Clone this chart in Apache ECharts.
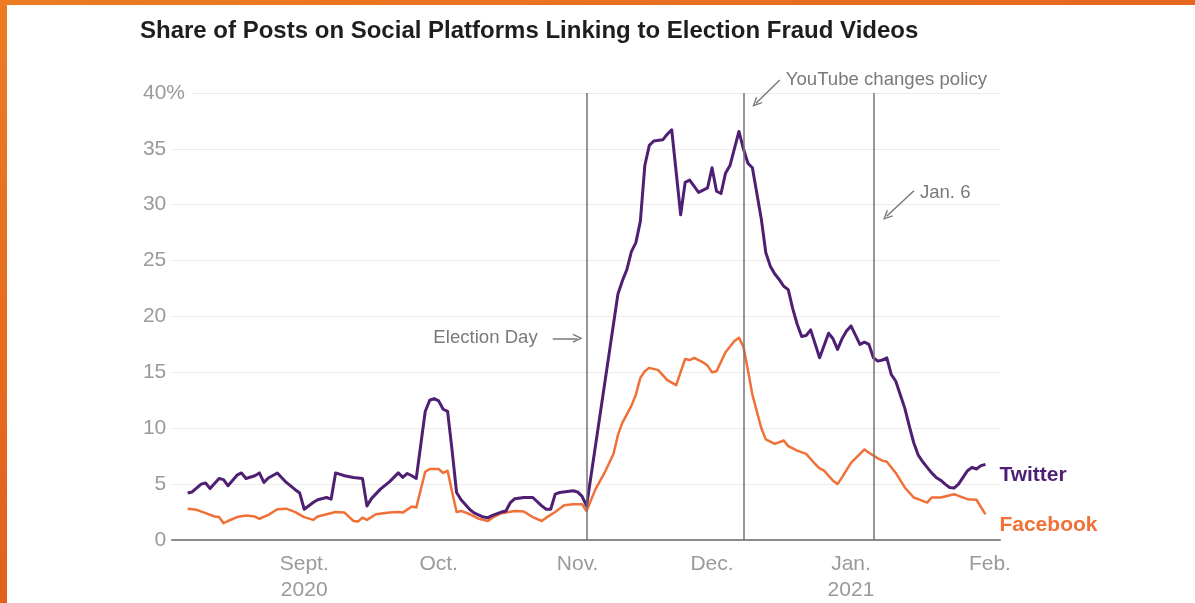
<!DOCTYPE html>
<html><head><meta charset="utf-8">
<script src="https://cdn.jsdelivr.net/npm/echarts@6/dist/echarts.min.js"></script>
<style>
html,body{margin:0;padding:0;width:1195px;height:603px;overflow:hidden;}
#frame{position:absolute;left:0;top:0;width:1195px;height:603px;background:linear-gradient(160deg,#ec7b23 0%,#e3641d 50%,#d9501a 100%);}
#paper{position:absolute;left:7px;top:5px;width:1188px;height:598px;background:#fff;}
#chart{position:absolute;left:0;top:0;width:1195px;height:603px;}
</style></head><body>
<div id="frame"></div><div id="paper"></div><div id="chart"></div>
<script>
const titleText = 'Share of Posts on Social Platforms Linking to Election Fraud Videos';

const twitter = [
 ['2020-08-06',4.2],['2020-08-07',4.3],['2020-08-09',5.0],['2020-08-10',5.1],['2020-08-11',4.6],
 ['2020-08-13',5.5],['2020-08-14',5.4],['2020-08-15',4.85],['2020-08-17',5.8],['2020-08-18',6.0],
 ['2020-08-19',5.5],['2020-08-21',5.75],['2020-08-22',6.0],['2020-08-23',5.15],['2020-08-24',5.55],
 ['2020-08-26',6.0],['2020-08-28',5.15],['2020-08-30',4.5],['2020-08-31',4.2],['2020-09-01',2.75],
 ['2020-09-03',3.35],['2020-09-04',3.6],['2020-09-06',3.8],['2020-09-07',3.65],['2020-09-08',6.0],
 ['2020-09-10',5.75],['2020-09-12',5.6],['2020-09-14',5.5],['2020-09-15',3.05],['2020-09-16',3.7],
 ['2020-09-18',4.55],['2020-09-20',5.2],['2020-09-22',6.0],['2020-09-23',5.6],['2020-09-24',5.95],
 ['2020-09-25',5.75],['2020-09-26',5.5],['2020-09-27',8.5],['2020-09-28',11.5],['2020-09-29',12.5],
 ['2020-09-30',12.65],['2020-10-01',12.45],['2020-10-02',11.7],['2020-10-03',11.5],['2020-10-04',8.0],
 ['2020-10-05',4.25],['2020-10-06',3.6],['2020-10-08',2.7],['2020-10-09',2.4],['2020-10-11',2.05],
 ['2020-10-12',2.0],['2020-10-13',2.2],['2020-10-15',2.5],['2020-10-16',2.6],['2020-10-17',3.35],
 ['2020-10-18',3.7],['2020-10-20',3.8],['2020-10-22',3.8],['2020-10-24',3.05],['2020-10-25',2.75],
 ['2020-10-26',2.75],['2020-10-27',4.1],['2020-10-28',4.25],['2020-10-31',4.4],['2020-11-01',4.3],
 ['2020-11-02',3.9],['2020-11-03',3.05],['2020-11-10',22.0],['2020-11-11',23.2],['2020-11-12',24.2],
 ['2020-11-13',25.8],['2020-11-14',26.6],['2020-11-15',28.5],['2020-11-16',33.5],['2020-11-17',35.3],
 ['2020-11-18',35.7],['2020-11-20',35.8],['2020-11-21',36.3],['2020-11-22',36.7],['2020-11-24',29.1],
 ['2020-11-25',32.0],['2020-11-26',32.2],['2020-11-28',31.1],['2020-11-30',31.5],['2020-12-01',33.3],
 ['2020-12-02',31.2],['2020-12-03',31.0],['2020-12-04',32.8],['2020-12-05',33.5],['2020-12-07',36.55],
 ['2020-12-08',35.0],['2020-12-09',33.7],['2020-12-10',33.3],['2020-12-11',31.0],['2020-12-12',28.7],
 ['2020-12-13',25.7],['2020-12-14',24.5],['2020-12-15',23.8],['2020-12-16',23.3],['2020-12-17',22.7],
 ['2020-12-18',22.4],['2020-12-19',20.7],['2020-12-20',19.3],['2020-12-21',18.2],['2020-12-22',18.3],
 ['2020-12-23',18.8],['2020-12-25',16.3],['2020-12-27',18.5],['2020-12-28',18.0],['2020-12-29',17.05],
 ['2020-12-30',18.0],['2020-12-31',18.7],['2021-01-01',19.15],['2021-01-03',17.5],['2021-01-04',17.7],
 ['2021-01-05',17.5],['2021-01-06',16.3],['2021-01-07',16.0],['2021-01-08',16.1],['2021-01-09',16.3],
 ['2021-01-10',14.8],['2021-01-11',14.2],['2021-01-12',13.0],['2021-01-13',11.8],['2021-01-14',10.2],
 ['2021-01-15',8.7],['2021-01-16',7.6],['2021-01-17',7.0],['2021-01-18',6.5],['2021-01-19',6.0],
 ['2021-01-20',5.6],['2021-01-21',5.35],['2021-01-22',5.0],['2021-01-23',4.7],['2021-01-24',4.65],
 ['2021-01-25',5.0],['2021-01-26',5.6],['2021-01-27',6.2],['2021-01-28',6.5],['2021-01-29',6.35],
 ['2021-01-30',6.65],['2021-01-31',6.75]
];

const facebook = [
 ['2020-08-06',2.8],['2020-08-08',2.7],['2020-08-10',2.4],['2020-08-12',2.1],['2020-08-13',2.05],
 ['2020-08-14',1.5],['2020-08-15',1.7],['2020-08-17',2.05],['2020-08-19',2.2],['2020-08-21',2.1],
 ['2020-08-22',1.9],['2020-08-24',2.25],['2020-08-26',2.75],['2020-08-28',2.8],['2020-08-30',2.5],
 ['2020-09-01',2.05],['2020-09-03',1.8],['2020-09-04',2.1],['2020-09-06',2.3],['2020-09-08',2.5],
 ['2020-09-10',2.45],['2020-09-12',1.7],['2020-09-13',1.65],['2020-09-14',2.0],['2020-09-15',1.8],
 ['2020-09-17',2.3],['2020-09-20',2.45],['2020-09-22',2.5],['2020-09-23',2.45],['2020-09-25',3.0],
 ['2020-09-26',2.9],['2020-09-27',4.5],['2020-09-28',6.1],['2020-09-29',6.35],['2020-10-01',6.35],
 ['2020-10-02',6.0],['2020-10-03',6.2],['2020-10-04',4.3],['2020-10-05',2.5],['2020-10-06',2.6],
 ['2020-10-08',2.3],['2020-10-10',1.9],['2020-10-12',1.7],['2020-10-13',2.0],['2020-10-15',2.4],
 ['2020-10-18',2.6],['2020-10-20',2.55],['2020-10-22',2.05],['2020-10-24',1.7],['2020-10-25',2.0],
 ['2020-10-27',2.5],['2020-10-29',3.1],['2020-10-31',3.2],['2020-11-02',3.2],['2020-11-03',2.6],
 ['2020-11-05',4.55],['2020-11-07',6.0],['2020-11-09',7.7],['2020-11-10',9.4],['2020-11-11',10.5],
 ['2020-11-13',12.0],['2020-11-14',13.0],['2020-11-15',14.5],['2020-11-16',15.1],['2020-11-17',15.4],
 ['2020-11-19',15.2],['2020-11-21',14.3],['2020-11-23',13.85],['2020-11-25',16.2],['2020-11-26',16.1],
 ['2020-11-27',16.3],['2020-11-29',15.9],['2020-11-30',15.6],['2020-12-01',15.0],['2020-12-02',15.1],
 ['2020-12-04',16.8],['2020-12-06',17.8],['2020-12-07',18.1],['2020-12-08',17.3],['2020-12-09',15.2],
 ['2020-12-10',13.0],['2020-12-12',10.0],['2020-12-13',9.0],['2020-12-15',8.6],['2020-12-17',8.9],
 ['2020-12-18',8.4],['2020-12-20',8.0],['2020-12-22',7.7],['2020-12-24',6.8],['2020-12-25',6.4],
 ['2020-12-26',6.2],['2020-12-28',5.3],['2020-12-29',5.0],['2020-12-30',5.6],['2021-01-01',6.9],
 ['2021-01-03',7.7],['2021-01-04',8.1],['2021-01-05',7.8],['2021-01-07',7.3],['2021-01-08',7.1],
 ['2021-01-09',7.0],['2021-01-11',6.0],['2021-01-13',4.7],['2021-01-15',3.8],['2021-01-16',3.65],
 ['2021-01-18',3.35],['2021-01-19',3.8],['2021-01-21',3.8],['2021-01-24',4.1],['2021-01-25',3.95],
 ['2021-01-27',3.65],['2021-01-29',3.6],['2021-01-31',2.3]
];

const monthTicks = ['2020-09-01','2020-10-01','2020-11-01','2020-12-01','2021-01-01','2021-02-01'];
const monthLabels = ['Sept.\n2020','Oct.','Nov.','Dec.','Jan.\n2021','Feb.'];
const eventDates = ['2020-11-03','2020-12-08','2021-01-06'];
const noteTexts = ['Election Day','YouTube changes policy','Jan. 6'];
const noteAnchors = [['2020-10-24T00:00:00',18.04],['2020-12-17T11:00:00',41.16],['2021-01-16T09:00:00',31.07]];
const arrowFrom = [['2020-10-26T11:00:00',18.04],['2020-12-16T03:00:00',41.16],['2021-01-15T01:00:00',31.25]];
const arrowTo   = [['2020-11-01T00:00:00',18.04],['2020-12-10T19:00:00',39.08],['2021-01-08T23:00:00',28.96]];
const xRange = ['2020-08-02T12:00:00','2021-02-03T06:00:00'];
const yTop = 40;      // highest labelled value
const yRoom = 45;     // extra head-room for the annotations above the top gridline

const FONT = 'Liberation Sans, Arial, sans-serif';
const T = d => +echarts.number.parseDate(d);
const toPts = arr => arr.map(p => [T(p[0]), p[1]]);
const tickTimes = monthTicks.map(T);
const chevron = 'path://M0,10 L5,0 L10,10 L8.6,10.7 L5,3.2 L1.4,10.7 Z';

const chart = echarts.init(document.getElementById('chart'), null, {renderer:'canvas'});
chart.setOption({
  animation: false,
  backgroundColor: 'transparent',
  title: {
    text: titleText, left: 140, top: 19, padding: 0,
    textStyle: {fontFamily: FONT, fontSize: 24, fontWeight: 'bold', color: '#1e1e1e'}
  },
  grid: {left: 172, right: 195, top: 37, bottom: 62, containLabel: false},
  xAxis: {
    type: 'value',
    min: T(xRange[0]), max: T(xRange[1]),
    axisLine: {show: true, onZero: true, lineStyle: {color: '#8c8c8c', width: 2}},
    axisTick: {show: false},
    splitLine: {show: false},
    axisLabel: {
      customValues: tickTimes,
      color: '#9a9a9a', fontFamily: FONT, fontSize: 21, margin: 11, lineHeight: 26,
      hideOverlap: false,
      formatter: function (v) {
        let best = -1, bd = Infinity;
        tickTimes.forEach((t, i) => { const d = Math.abs(t - v); if (d < bd) { bd = d; best = i; } });
        return bd < 86400000 ? monthLabels[best] : '';
      }
    }
  },
  yAxis: {
    type: 'value', min: 0, max: yRoom, interval: 5,
    axisLine: {show: false}, axisTick: {show: false},
    splitLine: {showMaxLine: false, lineStyle: {color: '#ebebeb', width: 1}},
    axisLabel: {
      margin: -20,
      showMaxLabel: false,
      formatter: function (v) {
        if (v > yTop) return '';
        return v === yTop ? '{w|' + v + '%}' : '{n|' + v + '}{p|\u00a0}';
      },
      rich: {
        n: {color: '#9a9a9a', fontFamily: FONT, fontSize: 21},
        p: {width: 25.7, fontSize: 21, fontFamily: FONT},
        w: {color: '#9a9a9a', fontFamily: FONT, fontSize: 21, backgroundColor: '#ffffff', padding: [0, 7, 0, 0]}
      }
    }
  },
  series: [
    {
      name: 'Twitter', type: 'line', data: toPts(twitter), showSymbol: false, symbol: 'none', z: 4,
      lineStyle: {color: '#4e1f73', width: 3, join: 'round'},
      itemStyle: {color: '#4e1f73'},
      endLabel: {show: true, formatter: 'Twitter', color: '#4e1f73', fontFamily: FONT, fontSize: 21, fontWeight: 'bold', distance: 14, offset: [0, 11]},
      markLine: {
        silent: true, symbol: 'none', animation: false,
        label: {show: false},
        lineStyle: {color: '#737373', width: 1.5, type: 'solid'},
        data: eventDates.map(d => [{coord: [T(d), 0]}, {coord: [T(d), yTop]}])
      }
    },
    {
      name: 'Facebook', type: 'line', data: toPts(facebook), showSymbol: false, symbol: 'none', z: 3,
      lineStyle: {color: '#f07038', width: 2.5, join: 'round'},
      itemStyle: {color: '#f07038'},
      endLabel: {show: true, formatter: 'Facebook', color: '#f07038', fontFamily: FONT, fontSize: 21, fontWeight: 'bold', distance: 14, offset: [0, 11]},
      markLine: {
        silent: true, symbol: ['none', chevron], symbolSize: [9, 10], animation: false,
        label: {show: false},
        lineStyle: {color: '#7a7a7a', width: 1.5, type: 'solid'},
        data: arrowFrom.map((a, i) => [{coord: [T(a[0]), a[1]]}, {coord: [T(arrowTo[i][0]), arrowTo[i][1]]}])
      },
      markPoint: {
        silent: true, symbol: 'circle', symbolSize: 0, animation: false,
        label: {show: true, color: '#7a7a7a', fontFamily: FONT, fontSize: 18.6},
        data: noteTexts.map((t, i) => ({
          coord: [T(noteAnchors[i][0]), noteAnchors[i][1]],
          label: {formatter: t, position: i === 0 ? 'left' : 'right', distance: i === 0 ? 4 : 0}
        }))
      }
    }
  ]
});
</script>
</body></html>
